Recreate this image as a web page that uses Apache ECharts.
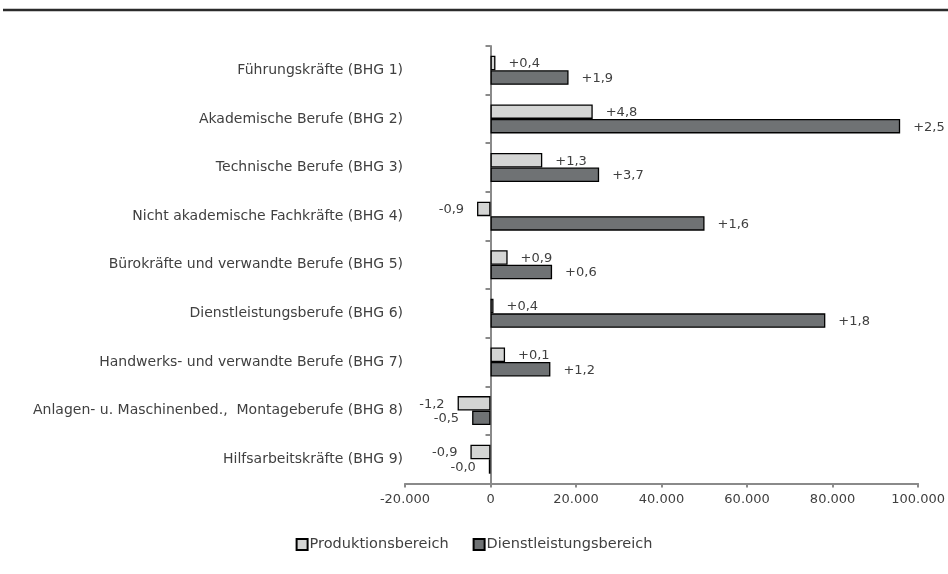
<!DOCTYPE html>
<html>
<head>
<meta charset="utf-8">
<script src="https://cdn.jsdelivr.net/npm/echarts@6/dist/echarts.min.js"></script>
<style>
html,body{margin:0;padding:0;background:#fff;}
#chart{width:948px;height:574px;}
</style>
</head>
<body>
<div id="chart"></div>
<script>
var categories = [
  'Führungskräfte (BHG 1)',
  'Akademische Berufe (BHG 2)',
  'Technische Berufe (BHG 3)',
  'Nicht akademische Fachkräfte (BHG 4)',
  'Bürokräfte und verwandte Berufe (BHG 5)',
  'Dienstleistungsberufe (BHG 6)',
  'Handwerks- und verwandte Berufe (BHG 7)',
  'Anlagen- u. Maschinenbed.,  Montageberufe (BHG 8)',
  'Hilfsarbeitskräfte (BHG 9)'
];
var seriesNames = ['Produktionsbereich', 'Dienstleistungsbereich'];
var prodValues = [1150, 23900, 12100, -3150, 4000, 700, 3400, -7700, -4700];
var dienstValues = [18250, 95800, 25400, 50050, 14400, 78300, 14000, -4300, -400];
var prodChange = ['+0,4', '+4,8', '+1,3', '-0,9', '+0,9', '+0,4', '+0,1', '-1,2', '-0,9'];
var dienstChange = ['+1,9', '+2,5', '+3,7', '+1,6', '+0,6', '+1,8', '+1,2', '-0,5', '-0,0'];
var xMin = -20000, xMax = 100000, xStep = 20000;

var FONT = 'DejaVu Sans';
var TXT = '#404040';
var AX = '#8a8a8a';

function fmtThousands(v) {
  var s = Math.abs(v).toString().replace(/\B(?=(\d{3})+(?!\d))/g, '.');
  return (v < 0 ? '-' : '') + s;
}

function buildData(values, changes) {
  return values.map(function (v, i) {
    return {
      value: v,
      label: { position: v >= 0 ? 'right' : 'left', formatter: changes[i] }
    };
  });
}

var barStyleCommon = {
  type: 'bar',
  xAxisIndex: 0,
  yAxisIndex: 0,
  barWidth: 14.5,
  barGap: '0%',
  label: {
    show: true,
    distance: 13,
    offset: [0, 1],
    color: TXT,
    fontFamily: FONT,
    fontSize: 13
  }
};

var chart = echarts.init(document.getElementById('chart'), null, { renderer: 'canvas' });
chart.setOption({
  animation: false,
  textStyle: { fontFamily: FONT },
  graphic: [{
    type: 'line',
    shape: { x1: 3, y1: 10, x2: 948, y2: 10 },
    style: { stroke: '#2b2b2b', lineWidth: 2.5 }
  }],
  grid: { left: 405, right: 23.5, top: 46, bottom: 90.5, containLabel: false },
  legend: {
    data: seriesNames,
    bottom: 17,
    left: 'center',
    itemWidth: 11,
    itemHeight: 11,
    itemGap: 24,
    icon: 'rect',
    textStyle: { color: TXT, fontFamily: FONT, fontSize: 14.5, padding: [0, 0, 0, -3] }
  },
  xAxis: {
    type: 'value',
    min: xMin,
    max: xMax,
    interval: xStep,
    axisLine: { show: true, onZero: false, lineStyle: { color: AX, width: 2 } },
    axisTick: { show: true, length: 4, lineStyle: { color: AX, width: 2 } },
    splitLine: { show: false },
    axisLabel: {
      color: TXT, fontFamily: FONT, fontSize: 13, margin: 10,
      formatter: function (v) { return fmtThousands(v); }
    }
  },
  yAxis: [{
    type: 'category',
    inverse: true,
    data: categories,
    axisLine: { show: false, onZero: false },
    axisTick: { show: false },
    axisLabel: { color: TXT, fontFamily: FONT, fontSize: 14, margin: 2 }
  }, {
    type: 'category',
    inverse: true,
    data: categories,
    position: 'left',
    axisLine: { show: true, onZero: true, lineStyle: { color: AX, width: 2 } },
    axisTick: { show: true, length: 5, lineStyle: { color: AX, width: 2 } },
    axisLabel: { show: false }
  }],
  series: [
    Object.assign({}, barStyleCommon, {
      name: seriesNames[0],
      data: buildData(prodValues, prodChange),
      itemStyle: { color: '#d4d5d4', borderColor: '#000', borderWidth: 1.3 }
    }),
    Object.assign({}, barStyleCommon, {
      name: seriesNames[1],
      data: buildData(dienstValues, dienstChange),
      itemStyle: { color: '#6f7274', borderColor: '#000', borderWidth: 1.3 }
    })
  ]
});
</script>
</body>
</html>
